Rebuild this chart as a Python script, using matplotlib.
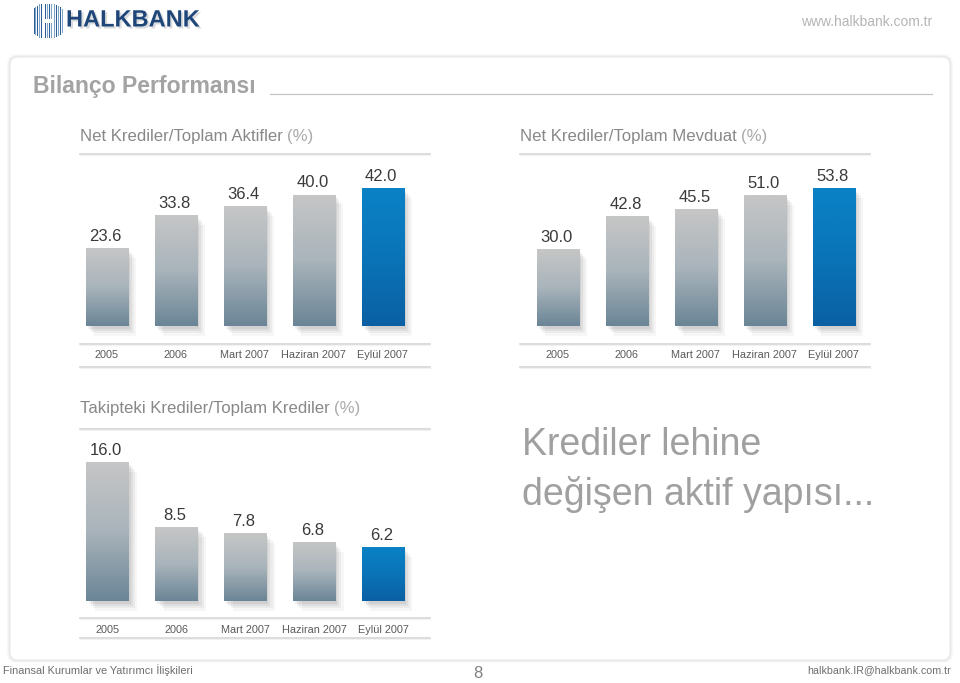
import numpy as np
import matplotlib
matplotlib.use("Agg")
import matplotlib.pyplot as plt
from matplotlib.colors import LinearSegmentedColormap
from matplotlib.patches import FancyBboxPatch
import matplotlib.patheffects as pe

plt.rcParams['font.family'] = ['Liberation Sans', 'DejaVu Sans']

# data
periods = ["2005", "2006", "Mart 2007", "Haziran 2007", "Eylül 2007"]
aktif_vals = [23.6, 33.8, 36.4, 40.0, 42.0]
mevduat_vals = [30.0, 42.8, 45.5, 51.0, 53.8]
takip_vals = [16.0, 8.5, 7.8, 6.8, 6.2]
titles = ["Net Krediler/Toplam Aktifler", "Net Krediler/Toplam Mevduat",
          "Takipteki Krediler/Toplam Krediler"]

W, H = 960, 683
fig = plt.figure(figsize=(W / 100, H / 100), dpi=100)
fig.patch.set_facecolor("white")

# background layer in pixel coords
bg = fig.add_axes([0, 0, 1, 1])
bg.set_xlim(0, W)
bg.set_ylim(H, 0)
bg.axis("off")

# panel with soft shadow
for k, a in enumerate([0.025, 0.03, 0.04]):
    s = 3 - k
    bg.add_patch(FancyBboxPatch((10 - s, 57 - s), 940 + 2 * s, 603 + 2 * s,
                                boxstyle="round,pad=0,rounding_size=9",
                                fc="black", ec="none", alpha=a))
bg.add_patch(FancyBboxPatch((10, 57), 940, 603,
                            boxstyle="round,pad=0,rounding_size=8",
                            fc="white", ec="#ebebeb", lw=0.8))

# logo
stripe_x = np.arange(33.5, 62.5, 1.9)
for j, xs in enumerate(stripe_x):
    d = abs(xs - 47.5)
    top = 4 + max(0, d - 8) * 0.7
    bot = 37 - max(0, d - 8) * 0.7
    col = "#2d5f96" if j % 2 == 0 else "#7fa3c8"
    if 41.8 < xs < 44.2 or 50.8 < xs < 53.2:
        continue
    if 44.2 <= xs <= 50.8:
        bg.plot([xs, xs], [top, 17.5], color=col, lw=0.75)
        bg.plot([xs, xs], [22.5, bot], color=col, lw=0.75)
    else:
        bg.plot([xs, xs], [top, bot], color=col, lw=0.75)
bg.text(66, 20, "HALKBANK", fontsize=17, fontweight="bold", color="#1f4679",
        va="center", ha="left",
        path_effects=[pe.withSimplePatchShadow(offset=(1.5, -1.5), alpha=0.15)])
bg.text(932, 22, "www.halkbank.com.tr", fontsize=10, color="#b5b5b5",
        ha="right", va="center")

# page title
bg.text(33, 87, "Bilanço Performansı", fontsize=16.6, fontweight="bold",
        color="#a3a3a3", ha="left", va="center")
bg.plot([270, 932], [93.5, 93.5], color="#c4c4c4", lw=0.9)

# big slogan
bg.text(522, 455, "Krediler lehine", fontsize=27, color="#a0a0a0",
        ha="left", va="baseline")
bg.text(522, 505, "değişen aktif yapısı...", fontsize=27, color="#a0a0a0",
        ha="left", va="baseline")

# footer
bg.text(3, 670, "Finansal Kurumlar ve Yatırımcı İlişkileri", fontsize=7.9,
        color="#6e6e6e", ha="left", va="center")
bg.text(478, 673, "8", fontsize=12, color="#808080", ha="center", va="center")
bg.text(951, 670, "halkbank.IR@halkbank.com.tr", fontsize=7.7,
        color="#6e6e6e", ha="right", va="center")

grey_cmap = LinearSegmentedColormap.from_list("g", ["#6b8596", "#a9b4bb", "#c6c6c6"])
blue_cmap = LinearSegmentedColormap.from_list("b", ["#0b60a3", "#0a74b8", "#0a82c6"])


def draw_chart(px_left, px_bottom, px_height, x_off, vals, title, title_y,
               line_title_y, line_a, line_b):
    ax = fig.add_axes([px_left / W, (H - px_bottom) / H, 350 / W, px_height / H])
    ax.set_facecolor("none")
    x = np.arange(len(vals))
    bars = ax.bar(x, vals, width=0.61, color="white", ec="none", clip_on=False,
                  zorder=1)
    for i, b in enumerate(bars):
        b.set_path_effects([
            pe.SimplePatchShadow(offset=(6, -7), shadow_rgbFace="#000000", alpha=0.035),
            pe.SimplePatchShadow(offset=(4.5, -5), shadow_rgbFace="#000000", alpha=0.045),
            pe.SimplePatchShadow(offset=(3, -3.5), shadow_rgbFace="#000000", alpha=0.055),
            pe.SimplePatchShadow(offset=(1.5, -2), shadow_rgbFace="#000000", alpha=0.06),
            pe.Normal()])
        cmap = blue_cmap if i == len(vals) - 1 else grey_cmap
        grad = np.linspace(0, 1, 128).reshape(-1, 1)
        im = ax.imshow(grad, extent=(b.get_x(), b.get_x() + b.get_width(),
                                     0, b.get_height()),
                       origin="lower", cmap=cmap, aspect="auto", zorder=2)
        im.set_clip_path(b)
        ax.annotate(f"{vals[i]:.1f}", (b.get_x() + b.get_width() / 2, b.get_height()),
                    xytext=(-1, 3), textcoords="offset points", ha="center",
                    va="bottom", fontsize=12, color="#3a3a3a")
    ax.set_xlim(-x_off, -x_off + 350 / 68.9)
    ax.set_ylim(0, max(vals))
    ax.set_xticks(x, periods)
    ax.tick_params(axis="x", length=0, pad=17, labelsize=7.8, labelcolor="#5a5a5a")
    ax.yaxis.set_visible(False)
    for s in ax.spines.values():
        s.set_visible(False)

    # title and rules
    t = bg.text(px_left, title_y, title, fontsize=12.1, color="#888888",
                ha="left", va="center")
    bg.annotate("(%)", xy=(1, 0.5), xycoords=t, xytext=(3, 0),
                textcoords="offset points", fontsize=12.1, color="#aaaaaa",
                ha="left", va="center")
    for yy in (line_title_y, line_a, line_b):
        bg.plot([px_left, px_left + 350], [yy, yy], color="#d6d6d6", lw=1.2)
        bg.plot([px_left, px_left + 350], [yy + 1.3, yy + 1.3], color="#f2f2f2", lw=0.8)
    return ax


draw_chart(80, 326, 138, 27 / 68.9, aktif_vals, titles[0], 137, 154, 344, 367)
draw_chart(520, 326, 138, 38 / 68.9, mevduat_vals, titles[1], 137, 154, 344, 367)
draw_chart(80, 601, 139, 27.5 / 68.9, takip_vals, titles[2], 408, 429, 618, 638)

fig.savefig("out.png", dpi=100, facecolor="white")
